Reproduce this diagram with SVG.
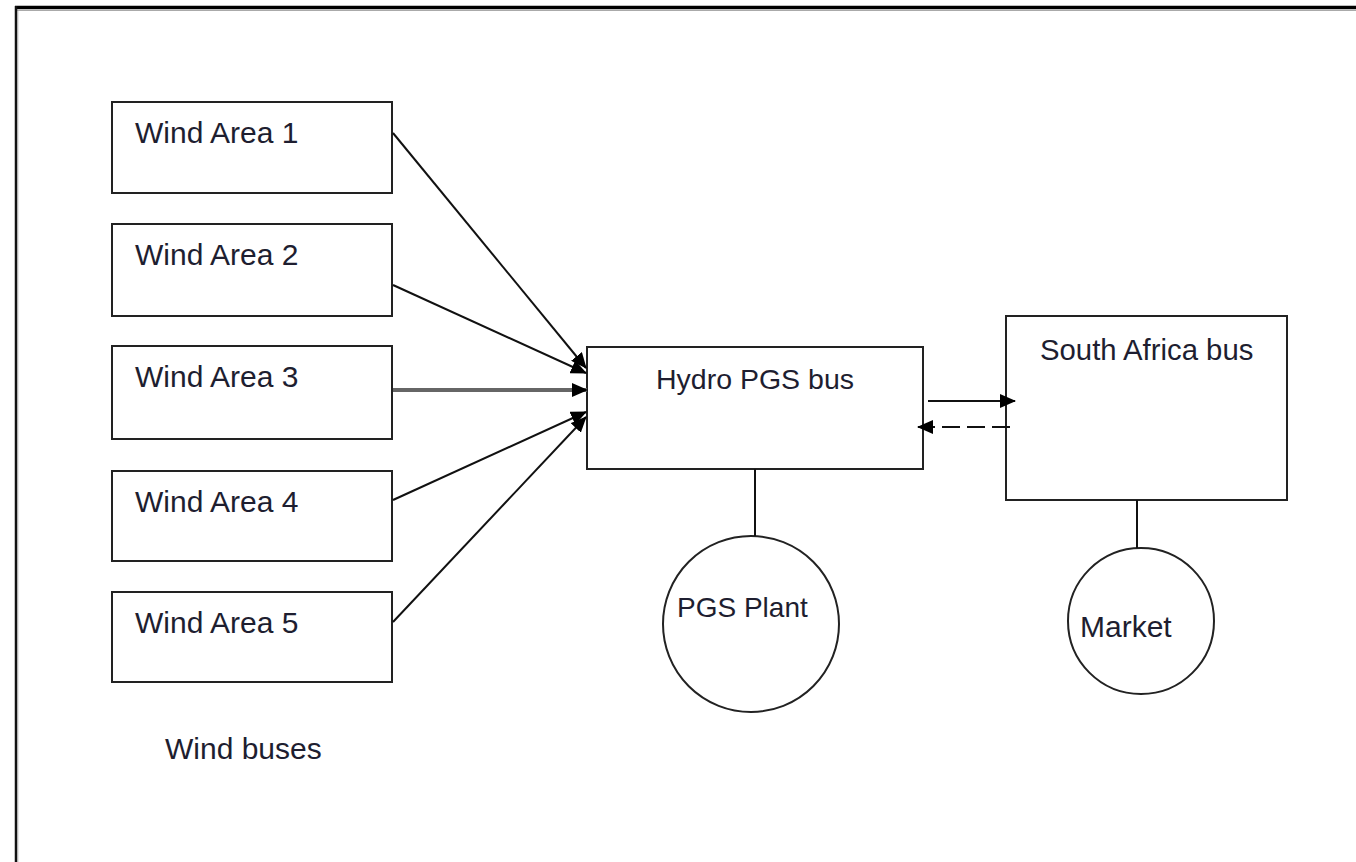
<svg xmlns="http://www.w3.org/2000/svg" width="1356" height="862" viewBox="0 0 1356 862">
<style>
.box{fill:#fff;stroke:#222;stroke-width:2}
.t{font-family:"Liberation Sans",Arial,sans-serif;font-size:30px;fill:#1e1e30}
.c{stroke:#111;stroke-width:2;fill:none}
</style>
<defs>
<marker id="ah" markerWidth="16" markerHeight="14" refX="15" refY="7" orient="auto" markerUnits="userSpaceOnUse">
<path d="M0,0 L16,7 L0,14 Z" fill="#000"/>
</marker>
</defs>
<rect width="1356" height="862" fill="#fff"/>
<g id="frame">
<line x1="15" y1="7.5" x2="1356" y2="7.5" stroke="#000" stroke-width="3.5"/>
<line x1="17" y1="10.5" x2="1356" y2="10.5" stroke="#aaa" stroke-width="1"/>
<line x1="16" y1="6" x2="16" y2="862" stroke="#111" stroke-width="2.5"/>
<line x1="17.8" y1="11" x2="17.8" y2="862" stroke="#aaa" stroke-width="1"/>
</g>
<g id="wind1"><rect class="box" x="112" y="102" width="280" height="91"/><text class="t" x="135" y="143">Wind Area 1</text></g>
<g id="wind2"><rect class="box" x="112" y="224" width="280" height="92"/><text class="t" x="135" y="265">Wind Area 2</text></g>
<g id="wind3"><rect class="box" x="112" y="346" width="280" height="93"/><text class="t" x="135" y="387">Wind Area 3</text></g>
<g id="wind4"><rect class="box" x="112" y="471" width="280" height="90"/><text class="t" x="135" y="512">Wind Area 4</text></g>
<g id="wind5"><rect class="box" x="112" y="592" width="280" height="90"/><text class="t" x="135" y="633">Wind Area 5</text></g>
<g id="windbuses"><text class="t" x="165" y="759">Wind buses</text></g>
<g id="hydro"><rect class="box" x="587" y="347" width="336" height="122"/><text class="t" x="656" y="389" style="font-size:28.5px">Hydro PGS bus</text></g>
<g id="southafrica"><rect class="box" x="1006" y="316" width="281" height="184"/><text class="t" x="1040" y="360" style="font-size:29.3px">South Africa bus</text></g>
<g id="pgsplant"><circle class="box" cx="751" cy="624" r="88"/><text class="t" x="677" y="617" style="font-size:28px">PGS Plant</text></g>
<g id="market"><circle class="box" cx="1141" cy="621" r="73"/><text class="t" x="1080" y="637">Market</text></g>
<g id="connectors">
<line class="c" x1="393" y1="133" x2="586" y2="368" marker-end="url(#ah)"/>
<line class="c" x1="393" y1="285" x2="586" y2="373" marker-end="url(#ah)"/>
<line x1="393" y1="390" x2="587" y2="390" stroke="#666" stroke-width="4" marker-end="url(#ah)"/>
<line class="c" x1="393" y1="500" x2="586" y2="412" marker-end="url(#ah)"/>
<line class="c" x1="393" y1="622" x2="586" y2="417" marker-end="url(#ah)"/>
<line class="c" x1="928" y1="401" x2="1015" y2="401" marker-end="url(#ah)"/>
<line class="c" x1="1010" y1="427" x2="918" y2="427" stroke-dasharray="18 7" marker-end="url(#ah)"/>
<line class="c" x1="755" y1="469" x2="755" y2="536"/>
<line class="c" x1="1137" y1="500" x2="1137" y2="548"/>
</g>
</svg>
